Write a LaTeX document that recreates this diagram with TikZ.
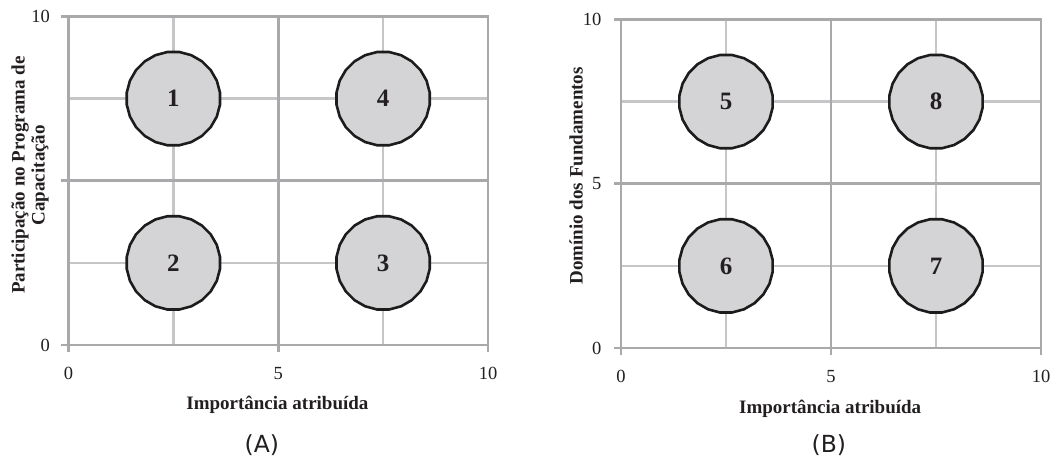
\documentclass[tikz,border=0pt]{standalone}
\usepackage{fontspec}
\setmainfont{Liberation Serif}
\newfontfamily\panelfont{DejaVu Sans}
\usetikzlibrary{shapes.geometric}
\definecolor{majorgray}{HTML}{A9A9AB}
\definecolor{minorgray}{HTML}{C6C6C8}
\definecolor{bubblefill}{HTML}{D4D4D6}
\definecolor{bubbleline}{HTML}{1C1C1C}
\definecolor{textcol}{HTML}{231F20}
\tikzset{
  majorline/.style={draw=majorgray, line width=2.8pt, line cap=rect},
  minorline/.style={draw=minorgray, line width=2.3pt},
  bubble/.style={regular polygon, regular polygon sides=24, minimum size=94pt, inner sep=0pt,
    draw=bubbleline, line width=2.6pt, fill=bubblefill, text=textcol,
    font=\bfseries\fontsize{25}{25}\selectfont},
  ticklbl/.style={text=textcol, inner sep=0pt, font=\fontsize{18.5}{20}\selectfont},
  axtitle/.style={text=textcol, inner sep=0pt, align=center, font=\bfseries\fontsize{19}{20}\selectfont},
  panellbl/.style={text=textcol, inner sep=0pt, font=\panelfont\fontsize{23.5}{25}\selectfont}
}
\begin{document}
\begin{tikzpicture}[x=1pt,y=1pt]
\useasboundingbox[fill=white] (0,0) rectangle (1051,459);
% ---------- Chart A ----------
\begin{scope}[shift={(68.5,114)}, x=41.95pt, y=32.85pt]
  \foreach \v in {2.5,7.5} {
    \draw[minorline] (0,\v) -- (10,\v);
    \draw[minorline] (\v,0) -- (\v,10);
  }
  \foreach \v in {0,5,10} {
    \draw[majorline] (-0.14,\v) -- (10,\v);
    \draw[majorline] (\v,-0.18) -- (\v,10);
  }
  \node[ticklbl, anchor=east] (ay0) at (-0.44,0) {0};
  \node[ticklbl, anchor=east] (ay10) at (-0.44,10) {10};
  \node[ticklbl] (ax0) at (0,-0.88) {0};
  \node[ticklbl] (ax5) at (5,-0.88) {5};
  \node[ticklbl] (ax10) at (10,-0.88) {10};
  \node[axtitle, rotate=90] (aytitle) at (-0.92,5.17) {Participação no Programa de\\Capacitação};
  \node[axtitle] (axtitle) at (4.98,-1.83) {Importância atribuída};
  \node[panellbl] (plA) at (4.61,-3.04) {(A)};
  \node[bubble] (b1) at (2.5,7.5) {1};
  \node[bubble] (b4) at (7.5,7.5) {4};
  \node[bubble] (b2) at (2.5,2.5) {2};
  \node[bubble] (b3) at (7.5,2.5) {3};
\end{scope}
% ---------- Chart B ----------
\begin{scope}[shift={(621,111)}, x=42pt, y=32.85pt]
  \foreach \v in {2.5,7.5} {
    \draw[minorline] (0,\v) -- (10,\v);
    \draw[minorline] (\v,0) -- (\v,10);
  }
  \foreach \v in {0,5,10} {
    \draw[majorline] (-0.14,\v) -- (10,\v);
    \draw[majorline] (\v,-0.18) -- (\v,10);
  }
  \node[ticklbl, anchor=east] (by0) at (-0.46,0) {0};
  \node[ticklbl, anchor=east] (by5) at (-0.46,5) {5};
  \node[ticklbl, anchor=east] (by10) at (-0.46,10) {10};
  \node[ticklbl] (bx0) at (0,-0.88) {0};
  \node[ticklbl] (bx5) at (5,-0.88) {5};
  \node[ticklbl] (bx10) at (10,-0.88) {10};
  \node[axtitle, rotate=90] (bytitle) at (-1.07,5.24) {Domínio dos Fundamentos};
  \node[axtitle] (bxtitle) at (4.98,-1.86) {Importância atribuída};
  \node[panellbl] (plB) at (4.95,-2.95) {(B)};
  \node[bubble] (b5) at (2.5,7.5) {5};
  \node[bubble] (b8) at (7.5,7.5) {8};
  \node[bubble] (b6) at (2.5,2.5) {6};
  \node[bubble] (b7) at (7.5,2.5) {7};
\end{scope}
\end{tikzpicture}
\end{document}
